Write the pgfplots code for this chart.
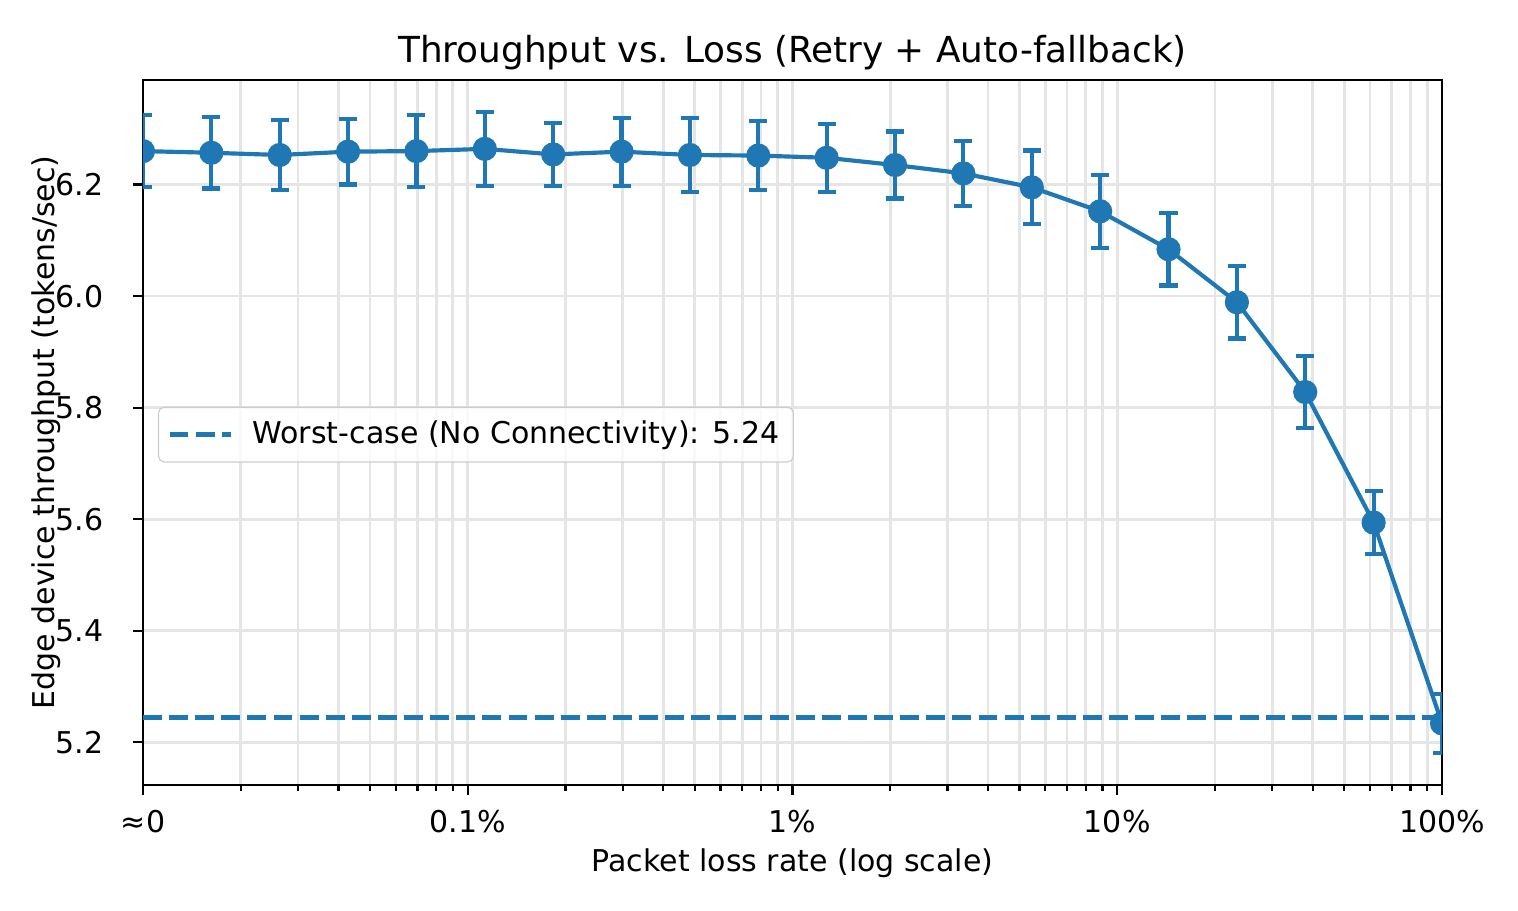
\documentclass[border=0pt]{standalone}
\usepackage{fontspec}
\setmainfont{DejaVu Sans}
\usepackage{pgfplots}
\pgfplotsset{compat=1.18}
\usepackage{pgfplotstable}
\definecolor{tabblue}{HTML}{1F77B4}

% loss rate, mean throughput, std
\pgfplotstableread{
x          y      e
0.0001     6.260  0.065
0.00016238 6.257  0.064
0.00026367 6.253  0.063
0.00042813 6.259  0.059
0.00069519 6.260  0.064
0.00112884 6.264  0.066
0.00183298 6.254  0.057
0.00297635 6.259  0.061
0.00483293 6.253  0.067
0.00784760 6.252  0.062
0.0127427  6.248  0.061
0.0206914  6.235  0.060
0.0335982  6.220  0.058
0.0545559  6.195  0.066
0.0885867  6.152  0.065
0.143845   6.084  0.065
0.233572   5.989  0.065
0.379269   5.828  0.065
0.615848   5.594  0.057
1          5.234  0.053
}\lossdata

\begin{document}
\begin{tikzpicture}
\path[use as bounding box] (-51.48pt,-45.36pt) rectangle (495pt,282.6pt);
\begin{axis}[
    at={(0,0)}, anchor=south west,
    scale only axis,
    width=467.64pt, height=253.8pt,
    xmode=log,
    xmin=1e-4, xmax=1,
    ymin=5.1235, ymax=6.3875,
    axis line style={line width=0.9pt},
    tick align=outside,
    tick style={black, line width=0.8pt},
    major tick length=3.5pt,
    minor tick length=2pt,
    xtick={1e-4,1e-3,1e-2,1e-1,1},
    xticklabels={≈0, 0.1\%, 1\%, 10\%, 100\%},
    ytick={5.2,5.4,5.6,5.8,6.0,6.2},
    yminorticks=false,
    xtick pos=bottom, ytick pos=left,
    xmajorgrids, xminorgrids, ymajorgrids,
    grid style={black!10, line width=1pt},
    minor grid style={black!10, line width=1pt},
    /pgf/number format/assume math mode=true,
    yticklabel={\pgfmathprintnumber[fixed,fixed zerofill,precision=1]{\tick}},
    ticklabel style={font=\fontsize{10.8}{13}\selectfont},
    xticklabel style={anchor=base, yshift=-13.5pt},
    yticklabel style={anchor=east, xshift=-7.2pt},
    title={Throughput vs. Loss (Retry + Auto-fallback)},
    title style={font=\fontsize{12.9}{15}\selectfont, at={(axis description cs:0.5,1)}, anchor=base, yshift=0.2pt},
    xlabel={Packet loss rate (log scale)},
    xlabel style={font=\fontsize{10.8}{13}\selectfont, at={(axis description cs:0.5,0)}, anchor=base, yshift=-31pt},
    ylabel={Edge device throughput (tokens/sec)},
    ylabel style={font=\fontsize{10.8}{13}\selectfont, at={(axis description cs:-0.0678,0.5)}, anchor=base},
    legend style={at={(axis description cs:0,0.497)}, anchor=west, xshift=5.4pt,
        draw=black!20, rounded corners=2pt, fill=white, fill opacity=0.8, text opacity=1,
        font=\fontsize{10.8}{13}\selectfont, inner xsep=3pt, inner ysep=3pt},
    legend cell align=left,
    legend image code/.code={\draw[#1] (0pt,0pt) -- (22pt,0pt); \path (27pt,0pt);},
    clip marker paths=true,
]
\addplot[
    forget plot,
    tabblue, line width=1.5pt,
    mark=*, mark size=3.6pt, mark options={solid, fill=tabblue},
    error bars/.cd,
        y dir=both, y explicit,
        error bar style={line width=1.5pt, tabblue},
        error mark options={rotate=90, mark size=3.25pt, line width=1.5pt, tabblue},
] table[x=x, y=y, y error=e] {\lossdata};

\addplot[tabblue, line width=1.9pt, dash pattern=on 6.8pt off 2.6pt]
    coordinates {(1e-4,5.244) (1,5.244)};
\addlegendentry{Worst-case (No Connectivity): 5.24}
\end{axis}
\end{tikzpicture}
\end{document}
